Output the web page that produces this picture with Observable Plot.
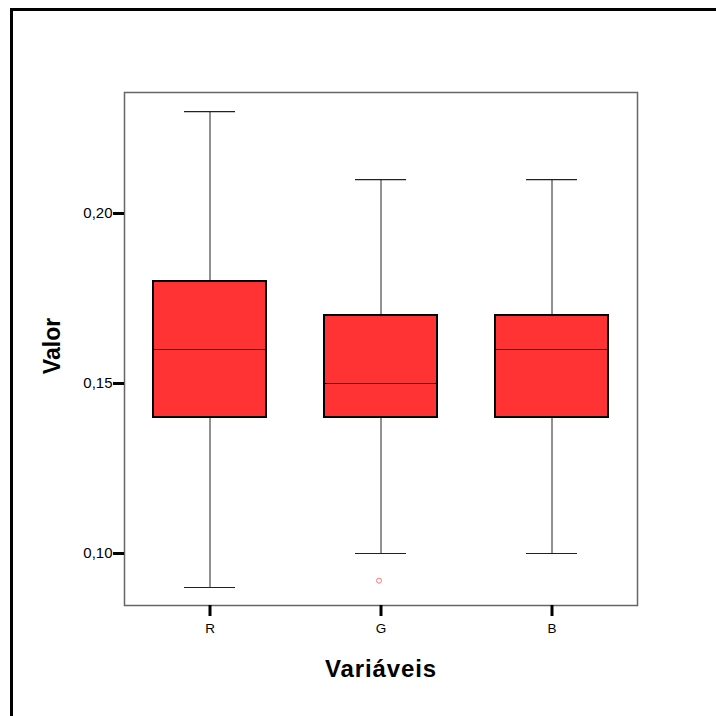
<!DOCTYPE html>
<html>
<head>
<meta charset="utf-8">
<script src="https://cdn.jsdelivr.net/npm/d3@7"></script>
<script src="https://cdn.jsdelivr.net/npm/@observablehq/plot@0.6"></script>
<style>
  html, body { margin: 0; padding: 0; background: #fff; overflow: hidden; }
  #wrap { position: relative; width: 716px; height: 716px; overflow: hidden; }
  .bar { position: absolute; background: #000; }
  #chart { position: absolute; left: 0; top: 0; }
</style>
</head>
<body>
<div id="wrap">
  <div class="bar" style="left:10px; top:8px; width:706px; height:3px;"></div>
  <div class="bar" style="left:10px; top:8px; width:3px; height:708px;"></div>
  <div id="chart"></div>
</div>
<script>
const categories = ["R", "G", "B"];
const mins    = [0.09, 0.10, 0.10];
const q1s     = [0.14, 0.14, 0.14];
const medians = [0.16, 0.15, 0.16];
const q3s     = [0.18, 0.17, 0.17];
const maxs    = [0.23, 0.21, 0.21];
const outlierCats = ["G"];
const outlierVals = [0.092];
const yTicks = [0.10, 0.15, 0.20];

const boxes = categories.map((c, i) => ({cat: c, min: mins[i], q1: q1s[i], med: medians[i], q3: q3s[i], max: maxs[i]}));
const outliers = outlierCats.map((c, i) => ({cat: c, v: outlierVals[i]}));

const font = "'Liberation Sans', Arial, Helvetica, sans-serif";

const chart = Plot.plot({
  width: 700,
  height: 716,
  marginLeft: 124,
  marginRight: 63,
  marginTop: 92,
  marginBottom: 111,
  style: {fontFamily: font, background: "transparent", overflow: "visible"},
  x: {domain: categories, paddingInner: 0.34, paddingOuter: 0.17, label: null},
  y: {domain: [0.0847, 0.2356], label: null},
  marks: [
    Plot.ruleX(boxes, {x: "cat", y1: "min", y2: "q1", stroke: "#222", strokeWidth: 1}),
    Plot.ruleX(boxes, {x: "cat", y1: "q3", y2: "max", stroke: "#222", strokeWidth: 1}),
    Plot.tickY(boxes, {x: "cat", y: "min", stroke: "#222", strokeWidth: 1.2, insetLeft: 31, insetRight: 31}),
    Plot.tickY(boxes, {x: "cat", y: "max", stroke: "#222", strokeWidth: 1.2, insetLeft: 31, insetRight: 31}),
    Plot.barY(boxes, {x: "cat", y1: "q1", y2: "q3", fill: "#ff3333", stroke: "#000", strokeWidth: 2}),
    Plot.tickY(boxes, {x: "cat", y: "med", stroke: "#000", strokeWidth: 1.2}),
    Plot.dot(outliers, {x: "cat", y: "v", r: 2.5, stroke: "#f77", strokeWidth: 1, dx: -2}),
    Plot.frame({stroke: "#666", strokeWidth: 1.5}),
    Plot.axisY({ticks: yTicks, tickSize: 11, tickPadding: 1, strokeWidth: 3, stroke: "#000",
      tickFormat: d => d.toFixed(2).replace(".", ","), fontSize: 15, label: null, fill: "#000"}),
    Plot.axisX({tickSize: 11, tickPadding: 7, strokeWidth: 3, stroke: "#000", fontSize: 13.5, label: null, fill: "#000"}),
    Plot.text(["Valor"], {frameAnchor: "left", textAnchor: "middle", dx: -72, dy: -3, rotate: -90, fontSize: 23, fontWeight: "bold", fill: "#000", lineAnchor: "middle"}),
    Plot.text(["Variáveis"], {frameAnchor: "bottom", dy: 64, fontSize: 24, fontWeight: "bold", fill: "#000", lineAnchor: "middle"})
  ]
});
d3.select(chart).selectAll("text").filter(function() { return this.textContent === "Variáveis"; })
  .attr("letter-spacing", "0.9px");
document.getElementById("chart").appendChild(chart);
</script>
</body>
</html>
